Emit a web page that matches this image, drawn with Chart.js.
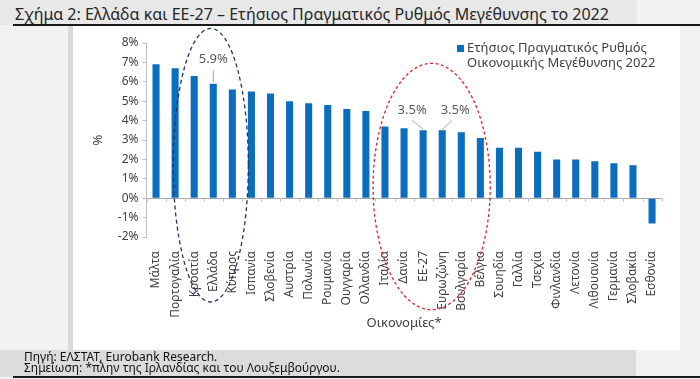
<!DOCTYPE html>
<html><head><meta charset="utf-8">
<script src="https://cdn.jsdelivr.net/npm/chart.js@4/dist/chart.umd.min.js"></script>
<style>
body{margin:0;width:700px;height:379px;position:relative;overflow:hidden;background:#f2f2f2;font-family:"Noto Sans",sans-serif;}
.abs{position:absolute}
</style></head><body>
<div class="abs" style="left:0;top:0;width:637px;height:25px;background:#e8e8e8"></div>
<div class="abs" style="left:68px;top:26px;width:5px;height:324px;background:#d9d9d9"></div>
<div class="abs" style="left:73px;top:26px;width:607px;height:324px;background:#ffffff"></div>
<div class="abs" style="left:0;top:350px;width:636px;height:27px;background:#dcdcdc"></div>
<div class="abs" style="left:13px;top:24px;width:687px;height:1.5px;background:#1a1a1a"></div>
<div class="abs" style="left:13px;top:376px;width:687px;height:2px;background:#1a1a1a"></div>
<div class="abs" id="title" style="left:15px;top:4px;font-size:16px;line-height:20px;color:#262626;white-space:nowrap"></div>
<canvas id="c" width="700" height="379" class="abs" style="left:0;top:0"></canvas>
<div class="abs" style="left:457px;top:45px;width:7px;height:7px;background:#0b6dbd"></div>
<div class="abs" id="legend" style="left:467px;top:40px;font-size:13px;line-height:15px;color:#404040;white-space:nowrap"></div>
<div class="abs" id="footer" style="left:24px;top:351px;font-size:12px;line-height:11px;color:#111;white-space:nowrap"></div>
<script>
const titleText = 'Σχήμα 2: Ελλάδα και ΕΕ-27 – Ετήσιος Πραγματικός Ρυθμός Μεγέθυνσης το 2022';
const seriesLabelLines = ['Ετήσιος Πραγματικός Ρυθμός', 'Οικονομικής Μεγέθυνσης 2022'];
const footerLines = ['Πηγή: ΕΛΣΤΑΤ, Eurobank Research.', 'Σημείωση: *πλην της Ιρλανδίας και του Λουξεμβούργου.'];
const xTitle = 'Οικονομίες*';
const yTitle = '%';

const categories = ['Μάλτα','Πορτογαλία','Κροατία','Ελλάδα','Κύπρος','Ισπανία','Σλοβενία','Αυστρία','Πολωνία','Ρουμανία','Ουγγαρία','Ολλανδία','Ιταλία','Δανία','ΕΕ-27','Ευρωζώνη','Βουλγαρία','Βέλγιο','Σουηδία','Γαλλία','Τσεχία','Φινλανδία','Λετονία','Λιθουανία','Γερμανία','Σλοβακία','Εσθονία'];
const growth = [6.9,6.7,6.3,5.9,5.6,5.5,5.4,5.0,4.9,4.8,4.6,4.5,3.7,3.6,3.5,3.5,3.4,3.1,2.6,2.6,2.4,2.0,2.0,1.9,1.8,1.7,-1.3];
const yMin = -2, yMax = 8, yStep = 1;

const calloutCats = ['Ελλάδα','ΕΕ-27','Ευρωζώνη'];
const calloutTexts = ['5.9%','3.5%','3.5%'];

document.getElementById('title').textContent = titleText;
document.getElementById('legend').innerHTML = seriesLabelLines.join('<br>');
document.getElementById('footer').innerHTML = footerLines.join('<br>');

const FONT = '"Noto Sans", sans-serif';
const BAR = '#0b6dbd';

// style for callouts: offsets relative to bar top (px)
const calloutStyle = [
  {tx:0, ty:-24.5, a:[0,-13.5], b:[0,-1.5]},
  {tx:-11, ty:-20, a:[-11,-10], b:[0,-1]},
  {tx:13, ty:-20, a:[10,-10], b:[0,-0.5]}
];
// style for highlight ellipses (centre in category units, vertical extent in axis units)
const ellipseStyle = [
  {centre:3, dx:-2.5, halfCats:1.97, top:8.75, bottom:-5.35, color:'#1f3566', dash:[4,3]},
  {centre:14.5, dx:-1, halfCats:3.07, top:6.95, bottom:-5.75, color:'#e0262b', dash:[3,2.5]}
];

const annot = {
  id:'annot',
  afterDatasetsDraw(chart){
    const {ctx, scales:{x, y}} = chart;
    const y0 = y.getPixelForValue(0);
    const w = (x.right - x.left) / categories.length;
    ctx.save();
    ctx.strokeStyle = '#bfbfbf'; ctx.lineWidth = 1;
    for (let i = 0; i <= categories.length; i++){
      const px = Math.round(x.left + i*w) + 0.5;
      ctx.beginPath(); ctx.moveTo(px, y0); ctx.lineTo(px, y0 + 3.5); ctx.stroke();
    }
    // callouts
    ctx.font = '13px ' + FONT;
    ctx.textAlign = 'center'; ctx.textBaseline = 'middle';
    calloutCats.forEach((c, k) => {
      const i = categories.indexOf(c);
      const bx = x.getPixelForValue(i);
      const by = y.getPixelForValue(growth[i]);
      const s = calloutStyle[k];
      ctx.fillStyle = '#595959';
      ctx.fillText(calloutTexts[k], bx + s.tx, by + s.ty);
      ctx.strokeStyle = '#a6a6a6'; ctx.lineWidth = 1;
      ctx.beginPath(); ctx.moveTo(bx + s.a[0], by + s.a[1]); ctx.lineTo(bx + s.b[0], by + s.b[1]); ctx.stroke();
    });
    // ellipses
    ellipseStyle.forEach(e => {
      const cx = x.left + (e.centre + 0.5) * w + e.dx;
      const t = y.getPixelForValue(e.top), b = y.getPixelForValue(e.bottom);
      ctx.strokeStyle = e.color; ctx.lineWidth = 1.3; ctx.setLineDash(e.dash);
      ctx.beginPath(); ctx.ellipse(cx, (t + b)/2, e.halfCats * w, (b - t)/2, 0, 0, Math.PI*2); ctx.stroke();
    });
    ctx.restore();
  }
};

new Chart(document.getElementById('c'), {
  type:'bar',
  data:{labels:categories, datasets:[{label:seriesLabelLines.join(' '), data:growth, backgroundColor:BAR, barPercentage:0.37, categoryPercentage:1}]},
  options:{
    responsive:false, animation:false,
    layout:{padding:{left:90, right:38.4, top:43, bottom:48}},
    plugins:{legend:{display:false}, tooltip:{enabled:false}},
    scales:{
      x:{
        grid:{display:false}, border:{display:false},
        ticks:{maxRotation:90, minRotation:90, autoSkip:false, padding:6, color:'#404040', font:{family:FONT, size:12}},
        title:{display:true, text:xTitle, color:'#404040', font:{family:FONT, size:13}, padding:0},
        afterFit:(s)=>{ s.height = 94; }
      },
      y:{
        min:yMin, max:yMax,
        ticks:{stepSize:yStep, callback:v=>v+'%', padding:4, color:'#404040', font:{family:FONT, size:12}},
        grid:{color:ctx => (ctx.tick && ctx.tick.value === 0) ? '#a6a6a6' : 'rgba(0,0,0,0)', tickColor:'#bfbfbf', tickLength:4, drawTicks:true},
        border:{display:true, color:'#bfbfbf'},
        title:{display:true, text:yTitle, color:'#404040', font:{family:FONT, size:13}, padding:0},
        afterFit:(s)=>{ s.width = 56.5; }
      }
    }
  },
  plugins:[annot]
});
</script>
</body></html>
